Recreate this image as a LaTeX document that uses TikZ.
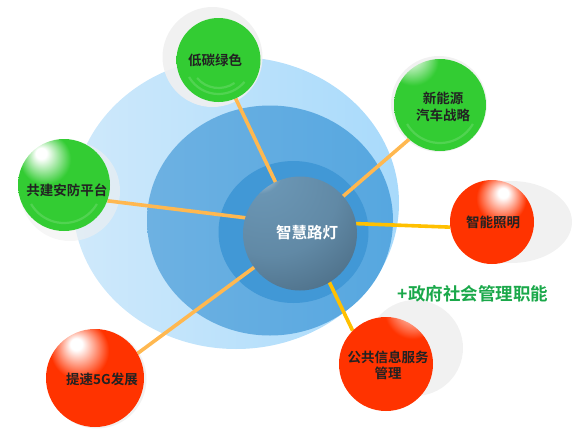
\documentclass[tikz,border=0pt]{standalone}
\usepackage{fontspec}
\newfontfamily\cjk{Noto Sans CJK SC}[BoldFont={Noto Sans CJK SC Bold}]
\newfontfamily\cjkm{Noto Sans CJK SC Medium}
\usetikzlibrary{calc}
\definecolor{gb}{HTML}{33CC33}
\definecolor{rb}{HTML}{FF3300}
\definecolor{hubA}{HTML}{6A95B3}
\definecolor{hubB}{HTML}{2E4659}
\definecolor{lineO}{HTML}{FFB850}
\definecolor{lineY}{HTML}{FFC000}
\definecolor{halo}{HTML}{F0F0F0}
\definecolor{blueL}{HTML}{CFE9FB}
\definecolor{blueR}{HTML}{A8DAFB}
\definecolor{midL}{HTML}{6DB1E2}
\definecolor{midR}{HTML}{56A7E0}
\definecolor{ring}{HTML}{4198D6}
\definecolor{txt}{HTML}{222222}
\definecolor{govgreen}{HTML}{1AA84A}
% green spheres
\pgfdeclareradialshading{gA}{\pgfpoint{-13bp}{18bp}}{color(0bp)=(white); color(3bp)=(white); color(14bp)=(gb); color(50bp)=(gb); color(66bp)=(gb!95!black)}
\pgfdeclareradialshading{gB}{\pgfpoint{-18bp}{30bp}}{color(0bp)=(white); color(3bp)=(white); color(14bp)=(gb); color(60bp)=(gb); color(78bp)=(gb!95!black)}
\pgfdeclareradialshading{gC}{\pgfpoint{0bp}{10bp}}{color(0bp)=(gb); color(50bp)=(gb); color(62bp)=(gb!95!black)}
% red spheres
\pgfdeclareradialshading{rA}{\pgfpoint{-10bp}{18bp}}{color(0bp)=(white); color(3bp)=(white); color(15bp)=(rb); color(70bp)=(rb)}
\pgfdeclareradialshading{rB}{\pgfpoint{7bp}{18bp}}{color(0bp)=(white); color(3bp)=(white); color(15bp)=(rb); color(70bp)=(rb)}
\pgfdeclareradialshading{rC}{\pgfpoint{17bp}{34bp}}{color(0bp)=(white); color(3bp)=(white); color(15bp)=(rb); color(90bp)=(rb)}
% hub sphere
\pgfdeclareradialshading{hubS}{\pgfpoint{-20bp}{31bp}}{color(0bp)=(white!80!hubA); color(3bp)=(white!70!hubA); color(10bp)=(hubA); color(30bp)=(hubA!85!hubB); color(65bp)=(hubB!85!hubA); color(88bp)=(hubB)}
\pgfdeclarelayer{bg}
\pgfdeclarelayer{mid}
\pgfsetlayers{bg,mid,main}
\tikzset{
  ball/.style={circle, inner sep=0pt, draw=none},
  lbl/.style={text=txt, font=\cjk\bfseries\fontsize{13.5}{17}\selectfont, align=center, inner sep=0pt},
  link/.style={line width=3.6pt, draw=lineO},
  linky/.style={line width=3.6pt, draw=lineY},
  halofill/.style={fill=halo, draw=none, opacity=0.9},
  gloss/.style={draw=white, opacity=0.15, line width=2.2pt}
}
\begin{document}
\begin{tikzpicture}[x=1pt,y=-1pt]
\useasboundingbox (0,0) rectangle (582,445);
% nodes
\node[ball, shading=hubS, minimum size=114pt] (hub) at (300,233.5) {};
\node[text=white, font=\cjk\bfseries\fontsize{15.5}{18}\selectfont, inner sep=0pt] (thub) at (307,233) {智慧路灯};
\node[ball, shading=gC, minimum size=84pt] (ditan) at (218.5,60) {};
\node[lbl] (tditan) at (215,60) {低碳绿色};
\node[ball, shading=gB, minimum size=92pt] (xny) at (440,105) {};
\node[lbl] (txny) at (443,107) {新能源\\汽车战略};
\node[ball, shading=gA, minimum size=92pt] (gj) at (64,185) {};
\node[lbl] (tgj) at (67,190) {共建安防平台};
\node[ball, shading=rB, minimum size=84pt] (zn) at (492,222) {};
\node[lbl] (tzn) at (493,222) {智能照明};
\node[ball, shading=rC, minimum size=94pt] (gg) at (386,364) {};
\node[lbl, font=\cjk\bfseries\fontsize{13.5}{15.5}\selectfont] (tgg) at (388,365.5) {公共信息服务\\管理};
\node[ball, shading=rA, minimum size=98pt] (fg) at (95,378) {};
\node[lbl] (tfg) at (102,379) {提速5G发展};
\node[text=govgreen, font=\cjk\bfseries\fontsize{17.5}{20}\selectfont, inner sep=0pt] (gov) at (473,294) {+政府社会管理职能};
% gloss arcs
\draw[gloss] ([shift={(150:34)}]ditan.center) arc[start angle=150, end angle=40, radius=34];
\draw[gloss] ([shift={(140:28)}]ditan.center) arc[start angle=140, end angle=55, radius=28];
\draw[gloss] ([shift={(150:38)}]xny.center) arc[start angle=150, end angle=30, radius=38];
\draw[gloss] ([shift={(150:38)}]gj.center) arc[start angle=150, end angle=30, radius=38];
% background layers
\begin{pgfonlayer}{bg}
  \path[left color=blueL, right color=blueR] (236,203) ellipse[x radius=163, y radius=146];
  \path[left color=midL, right color=midR] (270,220.5) ellipse[x radius=123, y radius=115];
  \path[fill=ring] (293.5,232) ellipse[x radius=75, y radius=71];
  \path[halofill] (212.5,57) circle[radius=50];
  \path[halofill] (439,104) circle[radius=48];
  \path[halofill, opacity=0.6] (70,191) circle[radius=50];
  \path[halofill] (511,222) ellipse[x radius=61, y radius=41];
  \path[halofill] (415,348) circle[radius=48];
  \path[halofill] (97,379) circle[radius=49.5];
\end{pgfonlayer}
% connectors
\begin{pgfonlayer}{mid}
  \draw[link] (hub.center) -- (ditan.-66);
  \draw[link] (hub.center) -- (xny.-132);
  \draw[link] ([yshift=9pt]hub.center) -- (gj.-20);
  \draw[linky] ([yshift=12pt]hub.center) -- (zn.-173);
  \draw[linky] ([xshift=6pt]hub.center) -- (gg.135);
  \draw[link] (hub.center) -- (fg.30);
\end{pgfonlayer}
\end{tikzpicture}
\end{document}
